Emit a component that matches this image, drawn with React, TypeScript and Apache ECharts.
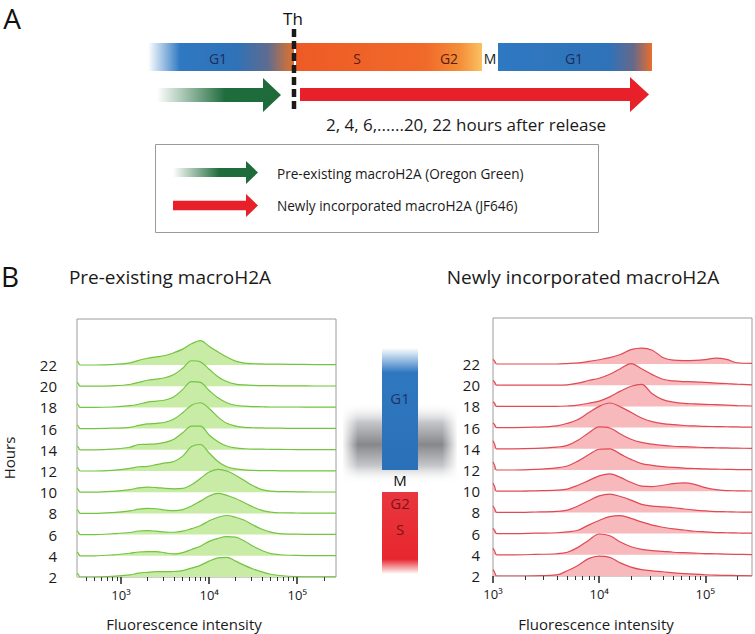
import React, { useEffect, useRef } from "react";
import * as echarts from "echarts";

// ---------- DATA ----------
const HOURS = ["2", "4", "6", "8", "10", "12", "14", "16", "18", "20", "22"];

// log10(fluorescence intensity) sample positions
const LEFT_LOG_X = [2.5, 2.515, 2.535, 2.7, 2.9, 3.1, 3.2, 3.3, 3.4, 3.5, 3.6, 3.7, 3.8, 3.9, 4.0, 4.1, 4.2, 4.3, 4.4, 4.5, 4.6, 4.7, 4.8, 5.0, 5.2, 5.44];
const RIGHT_LOG_X = [3.0, 3.015, 3.035, 3.2, 3.4, 3.6, 3.7, 3.8, 3.9, 4.0, 4.1, 4.2, 4.3, 4.4, 4.5, 4.6, 4.7, 4.8, 4.9, 5.0, 5.1, 5.2, 5.3, 5.44];

// Pre-existing macroH2A (Oregon Green), relative counts, rows 2h..22h
const PRE_2H = [0.17, 0.12, 0, 0, 0.03, 0.1, 0.18, 0.22, 0.25, 0.25, 0.26, 0.3, 0.42, 0.55, 0.75, 0.9, 0.93, 0.75, 0.55, 0.38, 0.24, 0.13, 0.07, 0.02, 0.01, 0.01];
const PRE_4H = [0.17, 0.12, 0, 0, 0.04, 0.12, 0.18, 0.2, 0.2, 0.14, 0.09, 0.15, 0.3, 0.45, 0.68, 0.82, 0.9, 0.88, 0.7, 0.45, 0.25, 0.1, 0.05, 0.02, 0.01, 0.01];
const PRE_6H = [0.17, 0.12, 0, 0, 0.04, 0.1, 0.17, 0.19, 0.16, 0.12, 0.11, 0.16, 0.28, 0.42, 0.65, 0.82, 0.9, 0.82, 0.68, 0.45, 0.25, 0.12, 0.05, 0.02, 0.01, 0.01];
const PRE_8H = [0.17, 0.12, 0, 0, 0.04, 0.12, 0.2, 0.24, 0.22, 0.16, 0.13, 0.18, 0.35, 0.58, 0.82, 0.94, 0.85, 0.7, 0.5, 0.3, 0.14, 0.06, 0.03, 0.02, 0.01, 0.01];
const PRE_10H = [0.17, 0.12, 0, 0, 0.04, 0.12, 0.2, 0.24, 0.22, 0.18, 0.16, 0.18, 0.35, 0.65, 0.95, 1.08, 1.0, 0.8, 0.55, 0.3, 0.12, 0.05, 0.03, 0.02, 0.01, 0.01];
const PRE_12H = [0.17, 0.12, 0, 0, 0.03, 0.12, 0.2, 0.22, 0.3, 0.38, 0.45, 0.7, 1.15, 1.25, 0.85, 0.45, 0.2, 0.1, 0.05, 0.03, 0.02, 0.02, 0.01, 0.01, 0.01, 0.01];
const PRE_14H = [0.17, 0.12, 0, 0, 0.03, 0.12, 0.25, 0.26, 0.28, 0.35, 0.5, 0.8, 1.12, 1.12, 0.7, 0.38, 0.18, 0.09, 0.05, 0.03, 0.03, 0.02, 0.02, 0.01, 0.01, 0.01];
const PRE_16H = [0.17, 0.12, 0, 0, 0.02, 0.06, 0.15, 0.22, 0.25, 0.3, 0.45, 0.75, 1.1, 1.22, 0.95, 0.55, 0.25, 0.12, 0.06, 0.04, 0.03, 0.02, 0.02, 0.01, 0.01, 0.01];
const PRE_18H = [0.17, 0.12, 0, 0, 0.02, 0.08, 0.15, 0.25, 0.3, 0.35, 0.5, 0.85, 1.22, 1.18, 0.8, 0.45, 0.22, 0.1, 0.06, 0.04, 0.03, 0.02, 0.02, 0.02, 0.01, 0.01];
const PRE_20H = [0.17, 0.12, 0, 0, 0.02, 0.08, 0.18, 0.28, 0.33, 0.4, 0.55, 0.85, 1.2, 1.15, 0.8, 0.45, 0.22, 0.1, 0.06, 0.04, 0.03, 0.03, 0.02, 0.02, 0.01, 0.01];
const PRE_22H = [0.17, 0.12, 0, 0, 0.02, 0.1, 0.22, 0.32, 0.38, 0.45, 0.58, 0.75, 1.0, 1.15, 0.88, 0.62, 0.38, 0.18, 0.09, 0.06, 0.05, 0.04, 0.04, 0.03, 0.02, 0.02];

// Newly incorporated macroH2A (JF646), rows 2h..22h
const NEW_2H = [0.3, 0.18, 0, 0, 0.01, 0.05, 0.25, 0.5, 0.82, 0.94, 0.88, 0.62, 0.42, 0.3, 0.24, 0.2, 0.15, 0.11, 0.09, 0.06, 0.04, 0.03, 0.02, 0.01];
const NEW_4H = [0.3, 0.18, 0, 0, 0.02, 0.05, 0.12, 0.35, 0.68, 0.98, 0.9, 0.6, 0.38, 0.26, 0.2, 0.16, 0.12, 0.1, 0.08, 0.06, 0.05, 0.03, 0.02, 0.01];
const NEW_6H = [0.25, 0.15, 0, 0, 0.02, 0.04, 0.08, 0.16, 0.4, 0.62, 0.8, 0.85, 0.72, 0.55, 0.4, 0.3, 0.22, 0.17, 0.11, 0.08, 0.05, 0.04, 0.03, 0.02];
const NEW_8H = [0.3, 0.18, 0, 0, 0.02, 0.05, 0.11, 0.3, 0.55, 0.78, 0.86, 0.75, 0.58, 0.38, 0.3, 0.26, 0.22, 0.16, 0.11, 0.07, 0.04, 0.03, 0.02, 0.01];
const NEW_10H = [0.38, 0.22, 0, 0, 0.02, 0.05, 0.1, 0.28, 0.5, 0.72, 0.82, 0.65, 0.42, 0.24, 0.22, 0.28, 0.36, 0.39, 0.32, 0.17, 0.07, 0.03, 0.02, 0.01];
const NEW_12H = [0.38, 0.22, 0, 0, 0.03, 0.1, 0.19, 0.42, 0.72, 0.98, 1.0, 0.75, 0.5, 0.3, 0.22, 0.16, 0.12, 0.09, 0.07, 0.05, 0.04, 0.03, 0.02, 0.02];
const NEW_14H = [0.38, 0.22, 0, 0, 0.02, 0.08, 0.16, 0.4, 0.75, 1.03, 0.98, 0.7, 0.45, 0.3, 0.22, 0.16, 0.12, 0.1, 0.08, 0.06, 0.05, 0.04, 0.03, 0.02];
const NEW_16H = [0.22, 0.14, 0, 0, 0.02, 0.08, 0.2, 0.38, 0.7, 1.0, 1.16, 0.98, 0.72, 0.45, 0.28, 0.19, 0.14, 0.1, 0.08, 0.06, 0.05, 0.04, 0.03, 0.02];
const NEW_18H = [0.22, 0.14, 0, 0, 0, 0, 0.02, 0.06, 0.15, 0.25, 0.45, 0.72, 0.95, 1.04, 0.6, 0.32, 0.2, 0.14, 0.12, 0.1, 0.08, 0.06, 0.04, 0.02];
const NEW_20H = [0.22, 0.14, 0, 0, 0, 0, 0.02, 0.1, 0.22, 0.33, 0.52, 0.78, 1.02, 0.78, 0.5, 0.28, 0.2, 0.17, 0.16, 0.13, 0.1, 0.08, 0.05, 0.02];
const NEW_22H = [0.22, 0.14, 0, 0, 0, 0, 0.02, 0.05, 0.12, 0.2, 0.3, 0.45, 0.68, 0.75, 0.65, 0.31, 0.18, 0.16, 0.17, 0.21, 0.28, 0.22, 0.06, 0.03];

const PRE_ROWS = [PRE_2H, PRE_4H, PRE_6H, PRE_8H, PRE_10H, PRE_12H, PRE_14H, PRE_16H, PRE_18H, PRE_20H, PRE_22H];
const NEW_ROWS = [NEW_2H, NEW_4H, NEW_6H, NEW_8H, NEW_10H, NEW_12H, NEW_14H, NEW_16H, NEW_18H, NEW_20H, NEW_22H];

// axis ticks (log10 of intensity) and labels
const MAJOR_TICKS = [3, 4, 5];
const MAJOR_LABELS = ["10³", "10⁴", "10⁵"];
const LEFT_MINOR_INTENSITY = [400, 500, 600, 700, 800, 900, 2000, 3000, 4000, 5000, 6000, 7000, 8000, 9000, 20000, 30000, 40000, 50000, 60000, 70000, 80000, 90000, 200000];
const RIGHT_MINOR_INTENSITY = [2000, 3000, 4000, 5000, 6000, 7000, 8000, 9000, 20000, 30000, 40000, 50000, 60000, 70000, 80000, 90000, 200000];

const FONT = '"Open Sans", "Noto Sans", sans-serif';
const LG = echarts.graphic.LinearGradient;

function txt(x: number, y: number, text: string, size: number, fill = "#1a1a1a", align = "center", rotation = 0) {
  return {
    type: "text",
    x,
    y,
    rotation,
    z: 20,
    style: { text, fontSize: size, fontFamily: FONT, fill, align, verticalAlign: "middle" },
  };
}

function arrow(x0: number, x1: number, cy: number, bodyH: number, headH: number, headL: number, fill: any) {
  return {
    type: "polygon",
    z: 10,
    shape: {
      points: [
        [x0, cy - bodyH / 2],
        [x1 - headL, cy - bodyH / 2],
        [x1 - headL, cy - headH / 2],
        [x1, cy],
        [x1 - headL, cy + headH / 2],
        [x1 - headL, cy + bodyH / 2],
        [x0, cy + bodyH / 2],
      ],
    },
    style: { fill },
  };
}

function greenGrad() {
  return new LG(0, 0, 1, 0, [
    { offset: 0, color: "rgba(29,106,58,0)" },
    { offset: 0.55, color: "#1f6c3c" },
    { offset: 1, color: "#1d6a3a" },
  ]);
}

function ridgeSeries(xs: number[], rows: number[][], axisBase: number, yIndex: number, fill: string, line: string) {
  const s = rows.map((vals, i) => ({
    type: "line",
    xAxisIndex: axisBase,
    yAxisIndex: yIndex,
    data: xs.map((x, j) => [x, i + vals[j]]),
    symbol: "none",
    smooth: 0.35,
    lineStyle: { color: line, width: 1.2 },
    areaStyle: { color: fill, opacity: 1, origin: i },
    silent: true,
  }));
  return s.reverse();
}

function xAxes(gridIndex: number, min: number, max: number, minor: number[]) {
  return [
    {
      gridIndex,
      type: "value",
      min,
      max,
      axisLine: { show: false },
      splitLine: { show: false },
      axisTick: { show: true, customValues: MAJOR_TICKS, length: 7, lineStyle: { color: "#222", width: 1.5 } },
      axisLabel: {
        customValues: MAJOR_TICKS,
        formatter: (v: number) => MAJOR_LABELS[MAJOR_TICKS.indexOf(Math.round(v))] ?? "",
        fontSize: 13,
        fontFamily: FONT,
        color: "#1a1a1a",
        margin: 11,
      },
    },
    {
      gridIndex,
      type: "value",
      min,
      max,
      position: "bottom",
      axisLine: { show: false },
      splitLine: { show: false },
      axisTick: { show: true, customValues: minor.map((v) => Math.log10(v)), length: 4, lineStyle: { color: "#333", width: 1 } },
      axisLabel: { show: false },
    },
  ];
}

function yAxis(gridIndex: number, margin: number) {
  return {
    gridIndex,
    type: "value",
    min: 0,
    max: 12.17,
    interval: 1,
    axisLine: { show: false },
    axisTick: { show: false },
    splitLine: { show: false },
    axisLabel: {
      formatter: (v: number) => HOURS[v] ?? "",
      fontSize: 15,
      fontFamily: FONT,
      color: "#1a1a1a",
      margin,
      showMaxLabel: false,
    },
  };
}

export default function App() {
  const ref = useRef<HTMLDivElement>(null);
  useEffect(() => {
    if (!ref.current) return;
    const chart = echarts.init(ref.current, null, { renderer: "svg" });

    const graphic: any[] = [
      // ----- Panel A -----
      txt(12, 18, "A", 28, "#111"),
      txt(293, 18, "Th", 17, "#111"),
      // cell-cycle bar
      {
        type: "rect", z: 5, shape: { x: 148, y: 43, width: 146, height: 28 },
        style: { fill: new LG(0, 0, 1, 0, [
          { offset: 0, color: "rgba(47,121,194,0)" },
          { offset: 0.22, color: "#2f79c2" },
          { offset: 0.6, color: "#2f72b8" },
          { offset: 0.82, color: "#5e6c90" },
          { offset: 0.96, color: "#c8703e" },
          { offset: 1, color: "#d8703a" },
        ]) },
      },
      {
        type: "rect", z: 5, shape: { x: 296, y: 43, width: 186, height: 28 },
        style: { fill: new LG(0, 0, 1, 0, [
          { offset: 0, color: "#ee5a25" },
          { offset: 0.7, color: "#f06a2a" },
          { offset: 0.88, color: "#f48e38" },
          { offset: 1, color: "#fbc062" },
        ]) },
      },
      {
        type: "rect", z: 5, shape: { x: 498, y: 43, width: 154, height: 28 },
        style: { fill: new LG(0, 0, 1, 0, [
          { offset: 0, color: "#2f79c2" },
          { offset: 0.72, color: "#2f72b8" },
          { offset: 0.88, color: "#66698a" },
          { offset: 1, color: "#ea6e2c" },
        ]) },
      },
      txt(218, 58, "G1", 14, "#1a2e5c"),
      txt(357, 58, "S", 14, "#5a1e0e"),
      txt(449, 58, "G2", 14, "#5a1e0e"),
      txt(490, 58, "M", 14, "#222"),
      txt(574, 58, "G1", 14, "#1a2e5c"),
      {
        type: "line", z: 12, shape: { x1: 294, y1: 29, x2: 294, y2: 110 },
        style: { stroke: "#1a1a1a", lineWidth: 4.5, lineDash: [8, 4] },
      },
      arrow(157, 281, 95, 14, 34, 18, greenGrad()),
      arrow(300, 649, 94.5, 13, 35, 19, "#e8202a"),
      txt(466, 124, "2, 4, 6,......20, 22 hours after release", 17, "#1a1a1a"),
      // legend box
      {
        type: "rect", z: 5, shape: { x: 155.5, y: 144.5, width: 443, height: 88 },
        style: { fill: "#fff", stroke: "#9a9a9a", lineWidth: 1 },
      },
      arrow(173, 258, 172.5, 9, 23, 12, greenGrad()),
      arrow(173, 258, 205.5, 9.5, 23, 12, "#e8202a"),
      txt(277, 173, "Pre-existing macroH2A (Oregon Green)", 13.6, "#1a1a1a", "left"),
      txt(277, 205, "Newly incorporated macroH2A (JF646)", 13.6, "#1a1a1a", "left"),

      // ----- Panel B -----
      txt(10, 276, "B", 28, "#111"),
      txt(170, 277, "Pre-existing macroH2A", 19, "#1a1a1a"),
      txt(583, 277, "Newly incorporated macroH2A", 19, "#1a1a1a"),
      txt(9, 458, "Hours", 15, "#1a1a1a", "center", Math.PI / 2),
      txt(184, 624, "Fluorescence intensity", 15, "#1a1a1a"),
      txt(596, 624, "Fluorescence intensity", 15, "#1a1a1a"),

      // middle cell-cycle indicator
      {
        type: "rect", z: 3, shape: { x: 343, y: 402, width: 114, height: 82 },
        style: { fill: new LG(0, 0, 0, 1, [
          { offset: 0, color: "rgba(255,255,255,0)" },
          { offset: 0.25, color: "#c4c5c8" },
          { offset: 0.52, color: "#86888b" },
          { offset: 0.78, color: "#c6c7ca" },
          { offset: 1, color: "rgba(255,255,255,0)" },
        ]) },
      },
      {
        type: "rect", z: 4, shape: { x: 342, y: 401, width: 16, height: 84 },
        style: { fill: new LG(0, 0, 1, 0, [
          { offset: 0, color: "rgba(255,255,255,1)" },
          { offset: 1, color: "rgba(255,255,255,0)" },
        ]) },
      },
      {
        type: "rect", z: 4, shape: { x: 442, y: 401, width: 16, height: 84 },
        style: { fill: new LG(0, 0, 1, 0, [
          { offset: 0, color: "rgba(255,255,255,0)" },
          { offset: 1, color: "rgba(255,255,255,1)" },
        ]) },
      },
      {
        type: "rect", z: 6, shape: { x: 382, y: 348, width: 36, height: 122 },
        style: { fill: new LG(0, 0, 0, 1, [
          { offset: 0, color: "rgba(47,121,194,0)" },
          { offset: 0.2, color: "#2f78c0" },
          { offset: 1, color: "#2a70b8" },
        ]) },
      },
      {
        type: "rect", z: 6, shape: { x: 382, y: 492, width: 36, height: 82 },
        style: { fill: new LG(0, 0, 0, 1, [
          { offset: 0, color: "#e9373f" },
          { offset: 0.82, color: "#e8262e" },
          { offset: 1, color: "rgba(232,38,46,0)" },
        ]) },
      },
      txt(400, 398, "G1", 15, "#1d3566"),
      txt(400, 480, "M", 15, "#111"),
      txt(400, 503, "G2", 15, "#7a1418"),
      txt(400, 529, "S", 15, "#7a1418"),
    ];

    const option: any = {
      animation: false,
      backgroundColor: "#ffffff",
      textStyle: { fontFamily: FONT },
      grid: [
        { left: 77, top: 319, width: 259, height: 258, show: true, borderColor: "#9c9c9c", borderWidth: 1, backgroundColor: "transparent" },
        { left: 493, top: 318, width: 259, height: 258, show: true, borderColor: "#9c9c9c", borderWidth: 1, backgroundColor: "transparent" },
      ],
      xAxis: [
        ...xAxes(0, 2.5, 5.44, LEFT_MINOR_INTENSITY),
        ...xAxes(1, 3.0, 5.44, RIGHT_MINOR_INTENSITY),
      ],
      yAxis: [yAxis(0, 20), yAxis(1, 13)],
      series: [
        ...ridgeSeries(LEFT_LOG_X, PRE_ROWS, 0, 0, "#c8eba6", "#74c442"),
        ...ridgeSeries(RIGHT_LOG_X, NEW_ROWS, 2, 1, "#f8b9bc", "#df4b55"),
      ],
      graphic,
    };
    chart.setOption(option);
    return () => chart.dispose();
  }, []);

  return (
    <div
      ref={ref}
      style={{ position: "absolute", left: 0, top: 0, width: 755, height: 634, background: "#fff" }}
    />
  );
}
